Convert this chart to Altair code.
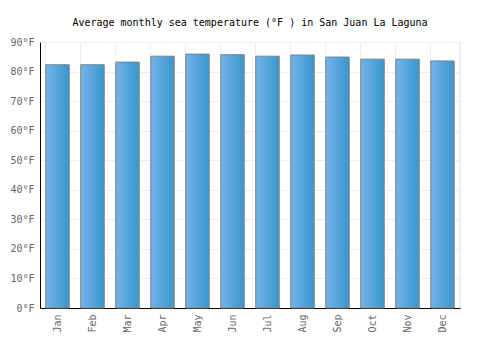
import altair as alt
import pandas as pd

months = ["Jan", "Feb", "Mar", "Apr", "May", "Jun", "Jul", "Aug", "Sep", "Oct", "Nov", "Dec"]
temps_f = [82.3, 82.3, 83.2, 85.2, 85.9, 85.7, 85.2, 85.6, 84.9, 84.2, 84.2, 83.6]

df = pd.DataFrame({"month": months, "temp": temps_f})

FONT = "DejaVu Sans Mono"

base = alt.Chart(df)

bars = base.mark_bar(
    stroke="#808080",
    strokeWidth=1,
    color=alt.Gradient(
        gradient="linear",
        stops=[alt.GradientStop(color="#74b4ea", offset=0),
               alt.GradientStop(color="#3896cc", offset=1)],
        x1=0, x2=1, y1=0, y2=0,
    ),
).encode(
    x=alt.X("month:N", sort=months, title=None,
            scale=alt.Scale(paddingInner=0.33, paddingOuter=0.165),
            axis=alt.Axis(labelAngle=-90, labelColor="#666666", labelFont=FONT,
                          labelFontSize=10, domainColor="#000000", ticks=False,
                          grid=True, gridColor="#eeeeee", bandPosition=0,
                          labelPadding=6, labelAlign="right", labelBaseline="middle")),
    y=alt.Y("temp:Q", title=None,
            scale=alt.Scale(domain=[0, 90], nice=False),
            axis=alt.Axis(values=list(range(0, 91, 10)), labelExpr="datum.value + '°F'",
                          labelColor="#666666", labelFont=FONT, labelFontSize=10,
                          domainColor="#000000", ticks=False, gridColor="#eeeeee",
                          labelPadding=6)),
)

right_edge = alt.Chart(df).mark_rule(color="#eeeeee").encode(
    x=alt.value(420), y=alt.value(0), y2=alt.value(266)
)

chart = alt.layer(right_edge, bars).properties(
    width=420,
    height=266,
    title=alt.TitleParams("Average monthly sea temperature (°F ) in San Juan La Laguna",
                          font=FONT, fontSize=10, fontWeight="normal", color="#000000",
                          anchor="middle", offset=9),
    autosize="none",
    padding={"left": 40, "top": 42, "right": 40, "bottom": 42},
).configure_view(stroke=None)

chart.save("out.html", embed_options={"renderer": "svg", "actions": False})
